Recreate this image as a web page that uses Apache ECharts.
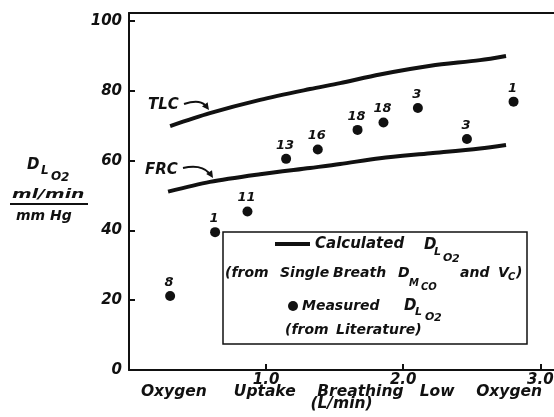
<!DOCTYPE html>
<html><head><meta charset="utf-8">
<script src="https://cdn.jsdelivr.net/npm/echarts@6/dist/echarts.min.js"></script>
<style>html,body{margin:0;padding:0;background:#fff}#c{width:554px;height:417px}</style>
</head><body><div id="c"></div>
<script>
// Calculated DLO2 curves (from single breath DMCO and Vc)
const tlcX = [0.30, 0.59, 0.956, 1.32, 1.54, 1.83, 2.20, 2.56, 2.75];
const tlcY = [69.9, 73.6, 77.4, 80.5, 82.2, 84.7, 87.2, 88.8, 90.0];
const frcX = [0.285, 0.59, 0.956, 1.32, 1.54, 1.83, 2.20, 2.56, 2.75];
const frcY = [51.1, 53.9, 56.1, 57.9, 59.0, 60.7, 62.1, 63.5, 64.5];
// Measured DLO2 (from literature) with number of subjects
const measX = [0.30, 0.628, 0.864, 1.146, 1.377, 1.667, 1.856, 2.107, 2.465, 2.805];
const measY = [21.2, 39.5, 45.4, 60.5, 63.2, 68.8, 70.9, 75.1, 66.2, 76.9];
const measN = ['8', '1', '11', '13', '16', '18', '18', '3', '3', '1'];
const xTicks = [1, 2, 3];
const xTickLabels = ['1.0', '2.0', '3.0'];
const yTicks = [0, 20, 40, 60, 80, 100];

const FF = '"DejaVu Sans"';
const F = (s) => 'italic bold ' + s + 'px ' + FF;
function T(text, x, y, size, sx) {
  return { type: 'text', x: x, y: y, scaleX: sx || 1, silent: true,
    style: { text: text, font: F(size || 15), fill: '#111', align: 'left', verticalAlign: 'middle' } };
}
const zip = (a, b) => a.map((v, i) => [v, b[i]]);

const chart = echarts.init(document.getElementById('c'), null, { renderer: 'canvas' });
chart.setOption({
  animation: false,
  backgroundColor: '#fff',
  grid: { left: 129, right: 0, top: 13, bottom: 47, outerBoundsMode: 'none', containLabel: false },
  xAxis: [{
    type: 'value', min: 0, max: 3.1,
    axisLine: { show: true, lineStyle: { color: '#111', width: 2 } },
    axisTick: { show: true, inside: true, length: 6, customValues: xTicks, lineStyle: { color: '#111', width: 2 } },
    axisLabel: { show: true, customValues: xTicks, margin: 3,
      formatter: (v) => xTickLabels[xTicks.indexOf(v)] || '',
      fontFamily: FF, fontStyle: 'italic', fontWeight: 'bold', fontSize: 15, color: '#111' },
    splitLine: { show: false },
    name: 'Oxygen     Uptake    Breathing   Low    Oxygen\n(L/min)',
    nameLocation: 'middle', nameGap: 16, nameMoveOverlap: false,
    nameTextStyle: { fontFamily: FF, fontStyle: 'italic', fontWeight: 'bold', fontSize: 15.5, color: '#111', lineHeight: 12 }
  }, {
    type: 'value', min: 0, max: 3.1, position: 'top',
    axisLine: { show: true, lineStyle: { color: '#111', width: 2 } },
    axisTick: { show: false }, axisLabel: { show: false }, splitLine: { show: false }
  }],
  yAxis: {
    type: 'value', min: 0, max: 102.3,
    axisLine: { show: true, lineStyle: { color: '#111', width: 2 } },
    axisTick: { show: true, inside: true, length: 6, customValues: yTicks, lineStyle: { color: '#111', width: 2 } },
    axisLabel: { show: true, customValues: yTicks, margin: 7,
      fontFamily: FF, fontStyle: 'italic', fontWeight: 'bold', fontSize: 15, color: '#111' },
    splitLine: { show: false }
  },
  series: [{
    name: 'TLC', type: 'line', data: zip(tlcX, tlcY), smooth: 0.3, showSymbol: false,
    lineStyle: { color: '#111', width: 4, cap: 'butt' }
  }, {
    name: 'FRC', type: 'line', data: zip(frcX, frcY), smooth: 0.3, showSymbol: false,
    lineStyle: { color: '#111', width: 4, cap: 'butt' }
  }, {
    name: 'Measured', type: 'scatter', symbol: 'circle', symbolSize: 10,
    itemStyle: { color: '#111', opacity: 1 },
    data: zip(measX, measY),
    label: { show: true, position: 'top', distance: 2, offset: [-1, 0],
      formatter: (p) => measN[p.dataIndex],
      fontFamily: FF, fontStyle: 'italic', fontWeight: 'bold', fontSize: 13, color: '#111' }
  }],
  graphic: [
    // Y-axis title
    T('D', 27, 165, 15), T('L', 41, 171, 12), T('O', 51, 177, 12), T('2', 61, 178, 12),
    T('ml/min', 12, 195, 13, 1.45),
    { type: 'line', shape: { x1: 10, y1: 204, x2: 88, y2: 204 }, style: { stroke: '#111', lineWidth: 2 } },
    T('mm Hg', 16, 216, 14),
    // TLC / FRC annotations
    T('TLC', 148, 105, 15),
    { type: 'bezierCurve', shape: { x1: 184, y1: 104, cpx1: 199, cpy1: 99, x2: 205, y2: 105 },
      style: { stroke: '#111', lineWidth: 2, fill: null } },
    { type: 'polygon', shape: { points: [[209, 110], [202, 106.5], [207.6, 102.3]] }, style: { fill: '#111' } },
    T('FRC', 145, 170, 15),
    { type: 'bezierCurve', shape: { x1: 183, y1: 168, cpx1: 201, cpy1: 164, x2: 209, y2: 173 },
      style: { stroke: '#111', lineWidth: 2, fill: null } },
    { type: 'polygon', shape: { points: [[213, 178], [206.2, 174.1], [212, 170.3]] }, style: { fill: '#111' } },
    // Legend box
    { type: 'rect', shape: { x: 223, y: 232, width: 304, height: 112 }, style: { stroke: '#111', lineWidth: 1.5, fill: null } },
    { type: 'line', shape: { x1: 275, y1: 244, x2: 310, y2: 244 }, style: { stroke: '#111', lineWidth: 4 } },
    T('Calculated', 315, 244, 15),
    T('D', 424, 245, 15), T('L', 434, 252, 11), T('O', 443, 258, 11), T('2', 452, 259, 11),
    T('(from', 225, 273, 14), T('Single', 280, 273, 14), T('Breath', 333, 273, 14),
    T('D', 398, 273, 14), T('M', 409, 283, 10), T('CO', 421, 287, 10),
    T('and', 460, 273, 14), T('V', 498, 273, 14), T('C', 508, 277, 10), T(')', 516, 273, 14),
    { type: 'circle', shape: { cx: 293, cy: 306, r: 5 }, style: { fill: '#111' } },
    T('Measured', 302, 306, 14),
    T('D', 404, 306, 15), T('L', 415, 312, 11), T('O', 425, 317, 11), T('2', 434, 318, 11),
    T('(from', 285, 330, 14), T('Literature)', 336, 330, 14)
  ]
});
</script></body></html>
